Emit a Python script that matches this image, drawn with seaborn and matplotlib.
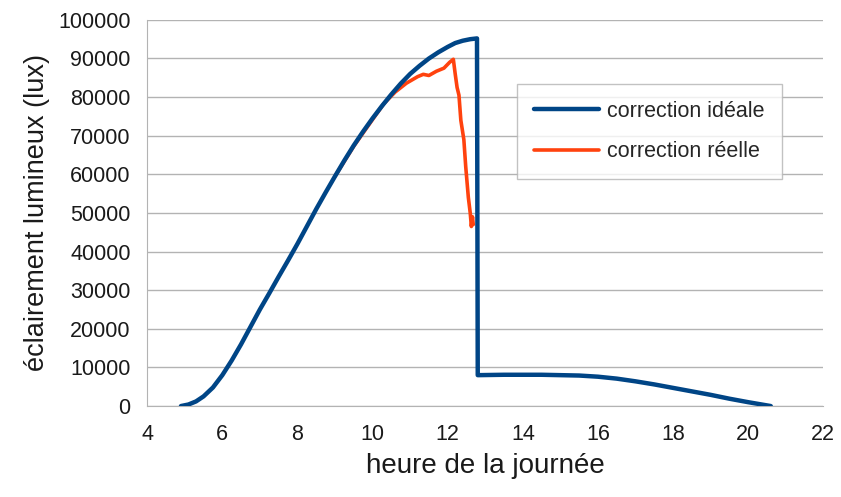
import matplotlib
matplotlib.use("Agg")
import pandas as pd
import seaborn as sns
from matplotlib import pyplot as plt

# heure (h) / eclairement (lux)
ideal_hours = [4.9, 5.1, 5.3, 5.5, 5.75, 6.0, 6.25, 6.5, 6.75, 7.0, 7.25, 7.5, 7.75,
               8.0, 8.25, 8.5, 8.75, 9.0, 9.25, 9.5, 9.75, 10.0, 10.25, 10.5, 10.75,
               11.0, 11.25, 11.5, 11.75, 12.0, 12.2, 12.4, 12.6, 12.78, 12.8, 13.5,
               14.5, 15.5, 16.0, 16.5, 17.0, 17.5, 18.0, 18.5, 19.0, 19.5, 20.0, 20.6]
ideal_lux = [0, 400, 1200, 2500, 4800, 8000, 11800, 16000, 20500, 25000, 29200, 33500,
             37700, 42000, 46500, 51000, 55300, 59500, 63600, 67500, 71100, 74500,
             77700, 80700, 83500, 86000, 88100, 90000, 91600, 93000, 94000, 94600,
             95000, 95200, 8000, 8100, 8100, 7900, 7600, 7100, 6400, 5600, 4700,
             3800, 2900, 1900, 1000, 0]

real_hours = [9.0, 9.5, 10.0, 10.3, 10.6, 10.9, 11.2, 11.35, 11.5, 11.7, 11.9, 12.05,
              12.15, 12.2, 12.25, 12.3, 12.35, 12.43, 12.48, 12.55, 12.6, 12.63,
              12.66, 12.68]
real_lux = [59500, 67300, 74200, 78300, 81300, 83600, 85300, 85900, 85600, 86700,
            87500, 89000, 89800, 86000, 82500, 80500, 74000, 69000, 62000, 54000,
            50000, 46500, 49000, 47000]

ideal = pd.DataFrame({"heure": ideal_hours, "lux": ideal_lux})
real = pd.DataFrame({"heure": real_hours, "lux": real_lux})

sns.set_style("white")
plt.rcParams["font.family"] = ["Liberation Sans Narrow", "Liberation Sans", "DejaVu Sans"]

fig = plt.figure(figsize=(8.41, 4.97), dpi=100)
ax = fig.add_axes([0.175, 0.183, 0.804, 0.777])

sns.lineplot(data=real, x="heure", y="lux", ax=ax, color="#ff420e", linewidth=2.6,
             label="correction réelle", zorder=2)
sns.lineplot(data=ideal, x="heure", y="lux", ax=ax, color="#004586", linewidth=3.2,
             label="correction idéale", zorder=3)

ax.set_xlim(4, 22)
ax.set_ylim(0, 100000)
ax.set_xticks(range(4, 23, 2))
ax.set_yticks(range(0, 100001, 10000))
ax.yaxis.grid(True, color="#b3b3b3", linewidth=1)
ax.set_axisbelow(True)

for side in ["top", "right"]:
    ax.spines[side].set_visible(False)
for side in ["left", "bottom"]:
    ax.spines[side].set_color("#b3b3b3")
ax.tick_params(axis="both", colors="#b3b3b3", labelcolor="#1a1a1a", labelsize=15.5,
               direction="out", length=7, width=1)
ax.tick_params(axis="y", pad=5)
ax.tick_params(axis="x", pad=6)

ax.set_xlabel("heure de la journée", fontsize=20, color="#1a1a1a", labelpad=6)
ax.set_ylabel("éclairement lumineux (lux)", fontsize=19.5, color="#1a1a1a", labelpad=6)

handles, labels = ax.get_legend_handles_labels()
leg = ax.legend(handles[::-1], labels[::-1], loc="upper left",
                bbox_to_anchor=(0.547, 0.835), borderaxespad=0, fontsize=15.5,
                frameon=True, fancybox=False, edgecolor="#b3b3b3", handlelength=3.0,
                handletextpad=0.4, borderpad=0.8, labelspacing=0.9)
leg.get_frame().set_linewidth(1)

fig.savefig("out.png", dpi=100)
